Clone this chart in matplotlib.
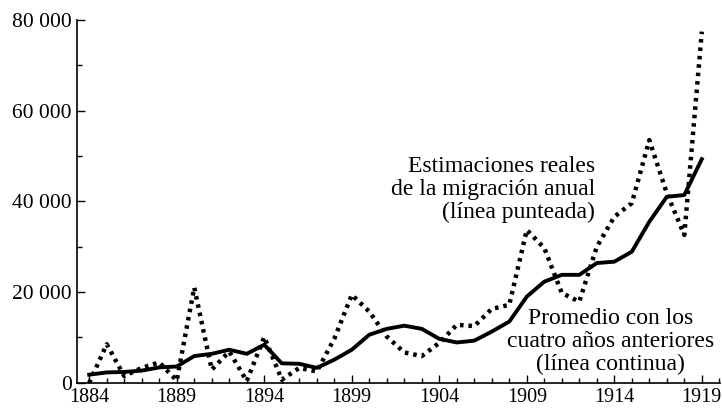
import matplotlib
matplotlib.use("Agg")
import matplotlib.pyplot as plt
from matplotlib.ticker import FuncFormatter, MultipleLocator

years = list(range(1884, 1920))
year_ticks = list(range(1884, 1920, 5))

# estimaciones anuales (línea punteada)
annual = [
    0, 8500, 1500, 3300, 4500, 500, 21000, 2900, 6900, 400,
    10100, 700, 3300, 2500, 9700, 19400, 15700, 10200, 6700, 5900,
    8800, 12800, 12500, 16300, 17200, 33700, 29700, 19800, 17900, 30000,
    36600, 39600, 53500, 41800, 32600, 77400,
]

# promedio con los cuatro años anteriores (línea continua)
average = [
    1800, 2300, 2400, 2700, 3400, 3600, 5900, 6400, 7300, 6400,
    8400, 4300, 4200, 3300, 5100, 7300, 10600, 11900, 12600, 11900,
    9700, 8900, 9300, 11300, 13500, 19000, 22300, 23800, 23800, 26400,
    26700, 28900, 35500, 41000, 41400, 49300,
]

plt.rcParams["font.family"] = ["Liberation Serif", "DejaVu Serif"]

fig = plt.figure(figsize=(7.22, 4.13), dpi=100)
ax = fig.add_axes([0.107, 0.073, 0.89, 0.879])

ax.plot(years, annual, color="black", linestyle=(0, (0.8, 1.1)), linewidth=3.2,
        dash_capstyle="butt")
ax.plot(years, average, color="black", linestyle="-", linewidth=2.8)

ax.set_xlim(1883.315, 1920.03)
ax.set_ylim(0, 80000)

for side in ("top", "right"):
    ax.spines[side].set_visible(False)
for side in ("left", "bottom"):
    ax.spines[side].set_linewidth(1.2)

ax.set_xticks(year_ticks)
ax.xaxis.set_minor_locator(MultipleLocator(1))
ax.yaxis.set_major_locator(MultipleLocator(20000))
ax.yaxis.set_minor_locator(MultipleLocator(10000))
ax.yaxis.set_major_formatter(FuncFormatter(lambda v, _: f"{int(v):,}".replace(",", " ")))

ax.tick_params(axis="both", which="major", direction="in", length=6, width=1, pad=4)
ax.tick_params(axis="x", which="major", labelsize=14.5)
ax.tick_params(axis="y", which="major", labelsize=15.5)
ax.tick_params(axis="both", which="minor", direction="in", length=3.5, width=1)

ax.text(1912.9, 42600, "Estimaciones reales\nde la migración anual\n(línea punteada)",
        ha="right", va="center", fontsize=17, linespacing=1.12)
ax.text(1913.8, 9100, "Promedio con los\ncuatro años anteriores\n(línea continua)",
        ha="center", va="center", fontsize=17, linespacing=1.12)

fig.savefig("out.png", dpi=100)
